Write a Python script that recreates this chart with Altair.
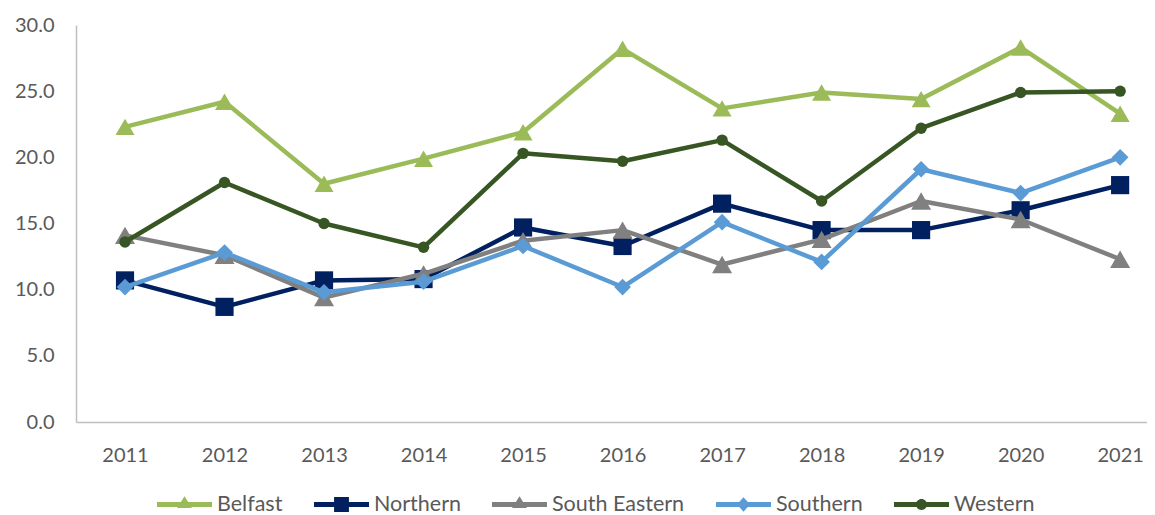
import altair as alt
import pandas as pd

years = [2011, 2012, 2013, 2014, 2015, 2016, 2017, 2018, 2019, 2020, 2021]
regions = ["Belfast", "Northern", "South Eastern", "Southern", "Western"]

belfast = [22.3, 24.2, 18.0, 19.9, 21.9, 28.2, 23.7, 24.9, 24.4, 28.3, 23.3]
northern = [10.7, 8.7, 10.7, 10.8, 14.7, 13.3, 16.5, 14.5, 14.5, 16.0, 17.9]
south_eastern = [14.1, 12.6, 9.4, 11.2, 13.7, 14.5, 11.9, 13.8, 16.7, 15.3, 12.3]
southern = [10.2, 12.8, 9.8, 10.6, 13.3, 10.2, 15.1, 12.1, 19.1, 17.3, 20.0]
western = [13.6, 18.1, 15.0, 13.2, 20.3, 19.7, 21.3, 16.7, 22.2, 24.9, 25.0]

colors = ["#9BBB59", "#002060", "#808080", "#5B9BD5", "#375623"]
shapes = ["triangle-up", "square", "triangle-up", "diamond", "circle"]
sizes = [361, 330, 400, 280, 130]

LINE = "M-1,-0.09L1,-0.09L1,0.09L-1,0.09Z "
legend_paths = [
    LINE + "M0,-0.3L0.27,0.13L-0.27,0.13Z",
    LINE + "M-0.27,-0.27L0.27,-0.27L0.27,0.27L-0.27,0.27Z",
    LINE + "M0,-0.3L0.27,0.13L-0.27,0.13Z",
    LINE + "M0,-0.26L0.24,0L0,0.26L-0.24,0Z",
    LINE + "M-0.2,0A0.2,0.2,0,1,1,0.2,0A0.2,0.2,0,1,1,-0.2,0Z",
]

series = [belfast, northern, south_eastern, southern, western]
rows = []
for name, vals in zip(regions, series):
    for yr, v in zip(years, vals):
        rows.append({"Year": yr, "Region": name, "Value": v})
df = pd.DataFrame(rows)

FONT = "Lato"
TXT = "#595959"

x = alt.X(
    "Year:Q",
    scale=alt.Scale(domain=[2010.5075, 2021.27], nice=False, zero=False),
    axis=alt.Axis(
        values=years, format="d", title=None, grid=False, ticks=False,
        labelPadding=23, labelFontSize=20, labelFont=FONT, labelColor=TXT,
        domainColor="#BFBFBF", domainWidth=1.5, labelFlush=False,
    ),
)
y = alt.Y(
    "Value:Q",
    scale=alt.Scale(domain=[0, 30], nice=False),
    axis=alt.Axis(
        values=[0, 5, 10, 15, 20, 25, 30], format=".1f", title=None, grid=False,
        ticks=False, labelPadding=22, labelFontSize=20, labelFont=FONT,
        labelColor=TXT, domainColor="#BFBFBF", domainWidth=1.5,
    ),
)

base = alt.Chart(df)

leg = alt.Legend(
    orient="none", legendX=81, legendY=452, direction="horizontal", title=None,
    symbolSize=3025, symbolStrokeWidth=0, symbolOpacity=1,
    labelFont=FONT, labelFontSize=21.5, labelColor=TXT, labelOffset=5,
    columnPadding=31, padding=0,
)

legend_layer = base.mark_point(filled=True, opacity=0).encode(
    x=x, y=y,
    color=alt.Color("Region:N", scale=alt.Scale(domain=regions, range=colors), legend=leg),
    shape=alt.Shape("Region:N", scale=alt.Scale(domain=regions, range=legend_paths), legend=leg),
)

layers = [legend_layer]
for name, c, s, sz in zip(regions, colors, shapes, sizes):
    sub = base.transform_filter(alt.datum.Region == name)
    layers.append(
        sub.mark_line(color=c, strokeWidth=4.5, strokeJoin="round", strokeCap="round").encode(x=x, y=y)
    )
    layers.append(
        sub.mark_point(filled=True, shape=s, size=sz, color=c, opacity=1).encode(x=x, y=y)
    )

chart = (
    alt.layer(*layers)
    .properties(
        width=1071, height=397,
        autosize=alt.AutoSizeParams(type="none"),
        padding={"left": 68, "top": 17, "right": 0, "bottom": 92},
    )
    .configure_view(stroke=None)
)

chart.save("out.html", embed_options={"renderer": "svg", "actions": False})
